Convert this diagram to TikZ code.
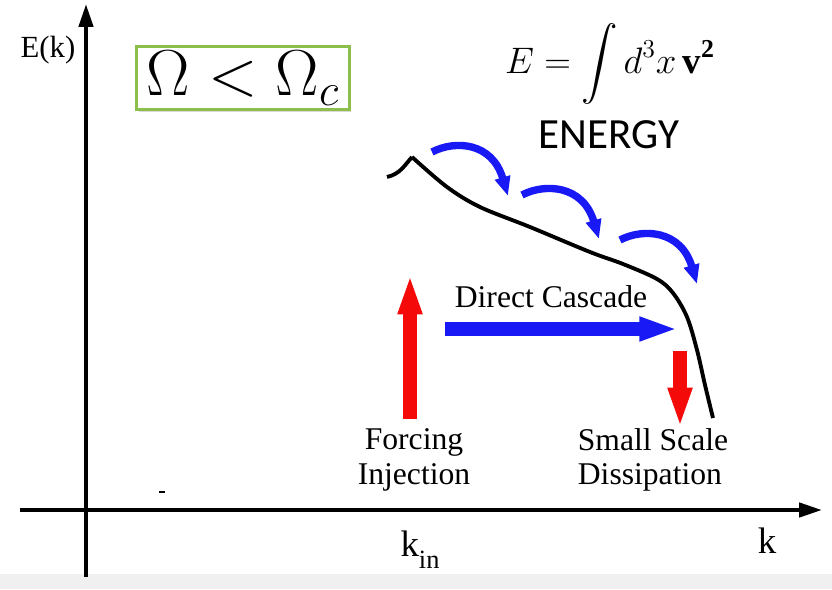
\RequirePackage{fix-cm}
\documentclass[tikz,border=0pt]{standalone}
\usepackage{exscale}
\usepackage{fontspec}
\setmainfont{Liberation Serif}
\newfontfamily\calib{Carlito}
\usetikzlibrary{arrows.meta,shadows}
\definecolor{boxgreen}{RGB}{140,190,75}
\definecolor{cblue}{RGB}{25,25,245}
\definecolor{cred}{RGB}{245,10,10}
\begin{document}
\begin{tikzpicture}[x=0.02cm,y=-0.02cm,
  axis/.style={line width=2.3pt,-{Triangle[length=13pt,width=8pt]}},
  spectrum/.style={line width=2.2pt,line join=round},
  hop/.style={cblue,line width=4.2pt,-{Triangle[length=11pt,width=8.5pt]}},
  fatblue/.style={cblue,line width=7.5pt,-{Triangle[length=22pt,width=12.5pt]}},
  fatred/.style={cred,line width=8.5pt,-{Triangle[length=23pt,width=12.5pt]}},
  lbl/.style={font=\fontsize{18}{19.5}\selectfont,inner sep=0pt}]
\useasboundingbox (0,0) rectangle (832,589);
\fill[black!6] (0,574) rectangle (832,589);

% axes
\coordinate (yb) at (86,577);
\coordinate (yt) at (86,4);
\coordinate (xl) at (20,510);
\coordinate (xr) at (822,510);
\draw[axis] (yb) -- (yt);
\draw[axis] (xl) -- (xr);
\coordinate (d1) at (159,492);
\coordinate (d2) at (165,492);
\draw[line width=0.8pt] (d1) -- (d2);

\node[font=\fontsize{17.5}{19}\selectfont] (ek) at (48,50) {E(k)};
\node[font=\fontsize{21}{24}\selectfont] (k) at (767,541) {k};
\node[font=\fontsize{21}{24}\selectfont,inner sep=0pt] (kin) at (420,550) {k\raisebox{-7pt}{\fontsize{15}{15}\selectfont in}};

% omega box
\node[draw=boxgreen,line width=1.7pt,fill=white,minimum width=121pt,minimum height=36pt,inner sep=0pt,
  drop shadow={shadow xshift=1.2pt,shadow yshift=-1.5pt,opacity=0.3},
  font=\fontsize{37}{40}\selectfont] (omega) at (243,78) {$\Omega < \Omega_c$};

% formula and label
\node[font=\fontsize{21}{25}\selectfont,inner sep=0pt,anchor=base] (form) at (610,73) {\smash{$\displaystyle E=\int d^3x\,\mathbf{v}^{\mathbf{2}}$}};
\node[font=\calib\fontsize{24.5}{27}\selectfont] (energy) at (609,135) {ENERGY};

% spectrum
\coordinate (s0) at (387,177);
\coordinate (s1) at (412,157);
\draw[spectrum] (s0) .. controls (400,174) and (404,166) .. (s1)
  plot[smooth,tension=0.55] coordinates {(412,157) (447,187) (480,207) (530,227) (590,252) (623,264) (657,279) (673,293) (687,317) (697,350) (705,385) (713,418)};

% cascade hops
\coordinate (h1a) at (432,152);
\coordinate (h1b) at (508,196);
\coordinate (h2a) at (522,195);
\coordinate (h2b) at (599,239);
\coordinate (h3a) at (620,240);
\coordinate (h3b) at (697,284);
\draw[hop] (h1a) .. controls (455,140) and (492,142) .. (h1b);
\draw[hop] (h2a) .. controls (545,183) and (583,185) .. (h2b);
\draw[hop] (h3a) .. controls (643,228) and (681,230) .. (h3b);

% big arrows
\coordinate (ra) at (410,419);
\coordinate (rb) at (410,274);
\draw[fatred] (ra) -- (rb);
\coordinate (da) at (680,351);
\coordinate (db) at (680,428);
\draw[fatred] (da) -- (db);
\coordinate (ba) at (445,329);
\coordinate (bb) at (678,329);
\draw[fatblue] (ba) -- (bb);

% labels
\node[lbl] (dc) at (551,297) {Direct Cascade};
\node[lbl,align=center] (fi) at (414,460) {Forcing\\Injection};
\node[lbl,align=left] (sd) at (653,460) {Small Scale\\Dissipation};
\end{tikzpicture}
\end{document}
